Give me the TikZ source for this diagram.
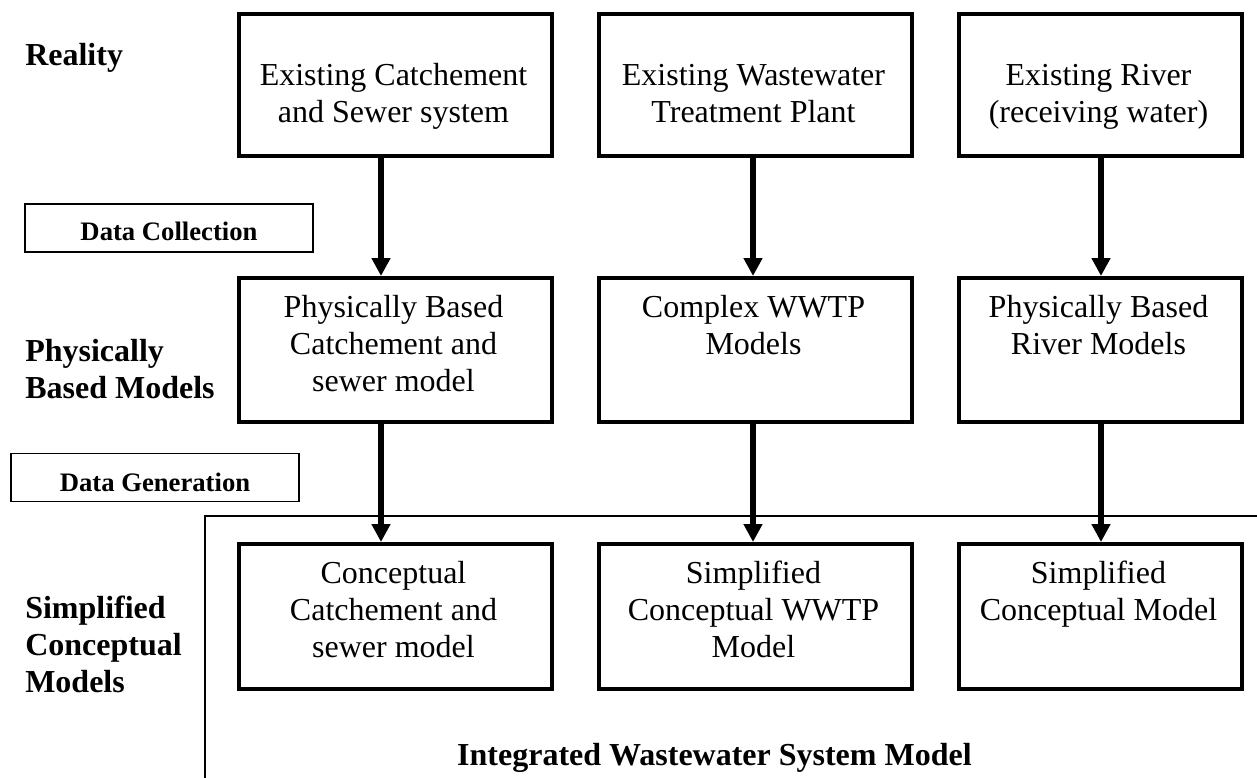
\documentclass[tikz,border=0pt]{standalone}
\usepackage{fontspec}
\setmainfont{Liberation Serif}
\usetikzlibrary{arrows.meta}
\newcommand\mylines[2][c]{\begin{tabular}[t]{@{}#1@{}}#2\end{tabular}}
\begin{document}
\begin{tikzpicture}[x=0.75pt,y=-0.75pt,
  box/.style={draw, line width=3pt, inner sep=0pt, anchor=north west, minimum width=234.75pt},
  wide3/.style={minimum width=212.25pt},
  r1/.style={minimum height=106.5pt},
  r2/.style={minimum height=108pt},
  r3/.style={minimum height=108.75pt},
  btxt/.style={anchor=base, inner sep=0pt, font=\fontsize{24}{27.75}\selectfont},
  lbl/.style={anchor=base west, inner sep=0pt, font=\fontsize{24}{27.75}\selectfont\bfseries},
  tag/.style={draw, line width=1.1pt, inner sep=0pt, minimum width=216pt, minimum height=36pt},
  tagtxt/.style={anchor=base, inner sep=0pt, font=\fontsize{20}{24}\selectfont\bfseries},
  arr/.style={line width=4.5pt, -{Triangle[length=13.5pt,width=13.5pt]}},
  frame/.style={line width=1.6pt}]
\useasboundingbox (0,0) rectangle (1257,778);

% boxes
\node[box,r1] (b11) at (237,12) {};
\node[box,r1] (b12) at (597,12) {};
\node[box,r1,wide3] (b13) at (957,12) {};
\node[box,r2] (b21) at (237,276) {};
\node[box,r2] (b22) at (597,276) {};
\node[box,r2,wide3] (b23) at (957,276) {};
\node[box,r3] (b31) at (237,542) {};
\node[box,r3] (b32) at (597,542) {};
\node[box,r3,wide3] (b33) at (957,542) {};

% box texts
\node[btxt] (t11) at (393.5,85) {\mylines{Existing Catchement\\and Sewer system}};
\node[btxt] (t12) at (753.5,85) {\mylines{Existing Wastewater\\Treatment Plant}};
\node[btxt] (t13) at (1098.5,85) {\mylines{Existing River\\(receiving water)}};
\node[btxt] (t21) at (393.5,317) {\mylines{Physically Based\\Catchement and\\sewer model}};
\node[btxt] (t22) at (753.5,317) {\mylines{Complex WWTP\\Models}};
\node[btxt] (t23) at (1098.5,317) {\mylines{Physically Based\\River Models}};
\node[btxt] (t31) at (393.5,583) {\mylines{Conceptual\\Catchement and\\sewer model}};
\node[btxt] (t32) at (753.5,583) {\mylines{Simplified\\Conceptual WWTP\\Model}};
\node[btxt] (t33) at (1098.5,583) {\mylines{Simplified\\Conceptual Model}};

% arrows
\coordinate (ax1) at (381,0);
\coordinate (ax2) at (753,0);
\coordinate (ax3) at (1101,0);
\draw[arr] (b11.south -| ax1) -- (b21.north -| ax1);
\draw[arr] (b12.south -| ax2) -- (b22.north -| ax2);
\draw[arr] (b13.south -| ax3) -- (b23.north -| ax3);
\draw[arr] (b21.south -| ax1) -- (b31.north -| ax1);
\draw[arr] (b22.south -| ax2) -- (b32.north -| ax2);
\draw[arr] (b23.south -| ax3) -- (b33.north -| ax3);

% tags
\node[tag] (dc) at (169,228) {};
\node[tagtxt] (dct) at (169,240) {Data Collection};
\node[tag] (dg) at (155,477.5) {};
\node[tagtxt] (dgt) at (155,491) {Data Generation};

% frame
\coordinate (f1) at (1257,516);
\coordinate (f2) at (205,516);
\coordinate (f3) at (205,778);
\draw[frame] (f1) -- (f2) -- (f3);

% labels
\node[lbl] (lr) at (25,65) {Reality};
\node[lbl] (lp) at (25,361) {\mylines[l]{Physically\\Based Models}};
\node[lbl] (ls) at (25,618) {\mylines[l]{Simplified\\Conceptual\\Models}};
\node[anchor=base east, inner sep=0pt, font=\fontsize{24}{27.75}\selectfont\bfseries] (lint) at (972,765) {Integrated Wastewater System Model};
\end{tikzpicture}
\end{document}
